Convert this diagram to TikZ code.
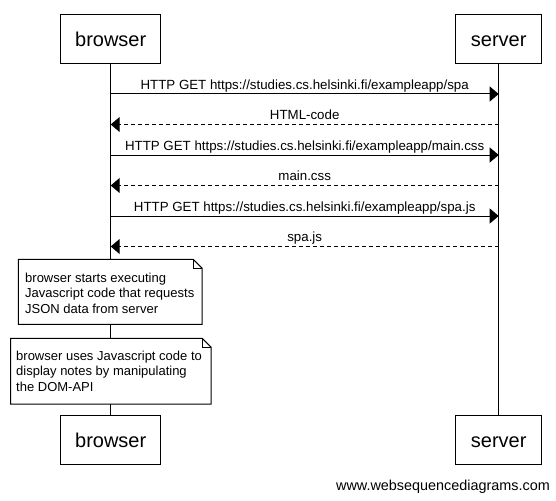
\documentclass[tikz,border=0pt]{standalone}
\usepackage{fontspec}
\setmainfont{Liberation Sans}
\usetikzlibrary{arrows.meta}
\begin{document}
\begin{tikzpicture}[x=1pt,y=-1pt,
  actor/.style={draw, line width=1pt, fill=white, minimum height=49pt, inner sep=0pt,
    font=\fontsize{20}{24}\selectfont, text height=14.6pt, text depth=0pt},
  lifeline/.style={line width=1pt},
  msg/.style={line width=1pt, -{Triangle[length=9pt,width=15pt]}},
  reply/.style={msg, dash pattern=on 4pt off 3pt},
  lbl/.style={font=\fontsize{13.3}{15}\selectfont, inner sep=0pt, anchor=base, yshift=4.7pt},
  notebg/.style={fill=white, inner sep=0pt, anchor=north west},
  noteline/.style={line width=1pt, line join=miter},
  notetext/.style={font=\fontsize{13}{15.5}\selectfont, align=left, inner sep=0pt, anchor=north west}
]
\path[use as bounding box, fill=white] (0,0) rectangle (556,500);

% participants
\node[actor, minimum width=100pt] (bt) at (110.7,39.5) {browser};
\node[actor, minimum width=86pt] (st) at (498.7,39.5) {server};
\node[actor, minimum width=100pt] (bb) at (110.7,440.2) {browser};
\node[actor, minimum width=86pt] (sb) at (498.7,440.2) {server};

% lifelines
\draw[lifeline] (bt.south) -- (bb.north);
\draw[lifeline] (st.south) -- (sb.north);

% message end points
\coordinate (b1) at (110.7,94);    \coordinate (s1) at (498.7,94);
\coordinate (b2) at (110.7,124.5); \coordinate (s2) at (498.7,124.5);
\coordinate (b3) at (110.7,155);   \coordinate (s3) at (498.7,155);
\coordinate (b4) at (110.7,185.5); \coordinate (s4) at (498.7,185.5);
\coordinate (b5) at (110.7,216);   \coordinate (s5) at (498.7,216);
\coordinate (b6) at (110.7,246.5); \coordinate (s6) at (498.7,246.5);

\draw[msg] (b1) -- node[lbl] (l1) {HTTP GET https://studies.cs.helsinki.fi/exampleapp/spa} (s1);
\draw[reply] (s2) -- node[lbl] (l2) {HTML-code} (b2);
\draw[msg] (b3) -- node[lbl] (l3) {HTTP GET https://studies.cs.helsinki.fi/exampleapp/main.css} (s3);
\draw[reply] (s4) -- node[lbl] (l4) {main.css} (b4);
\draw[msg] (b5) -- node[lbl] (l5) {HTTP GET https://studies.cs.helsinki.fi/exampleapp/spa.js} (s5);
\draw[reply] (s6) -- node[lbl] (l6) {spa.js} (b6);

% note 1
\node[notebg, minimum width=183.4pt, minimum height=64.7pt] (n1) at (18.3,259.3) {};
\draw[noteline] (n1.north west) -- ([xshift=-9pt]n1.north east) -- ([yshift=-9pt]n1.north east)
  -- (n1.south east) -- (n1.south west) -- cycle;
\draw[noteline] ([xshift=-9pt]n1.north east) -- ([xshift=-9pt,yshift=-9pt]n1.north east)
  -- ([yshift=-9pt]n1.north east);
\node[notetext] (t1) at (25,272.8) {browser starts executing\\Javascript code that requests\\JSON data from server};

% note 2
\node[notebg, minimum width=200pt, minimum height=65.4pt] (n2) at (10.7,338.3) {};
\draw[noteline] (n2.north west) -- ([xshift=-9pt]n2.north east) -- ([yshift=-9pt]n2.north east)
  -- (n2.south east) -- (n2.south west) -- cycle;
\draw[noteline] ([xshift=-9pt]n2.north east) -- ([xshift=-9pt,yshift=-9pt]n2.north east)
  -- ([yshift=-9pt]n2.north east);
\node[notetext] (t2) at (16,350.5) {browser uses Javascript code to\\display notes by manipulating\\the DOM-API};

% watermark
\node[font=\fontsize{14.4}{16}\selectfont, anchor=base east, inner sep=0pt] (wm) at (550,490.7) {www.websequencediagrams.com};
\end{tikzpicture}
\end{document}
